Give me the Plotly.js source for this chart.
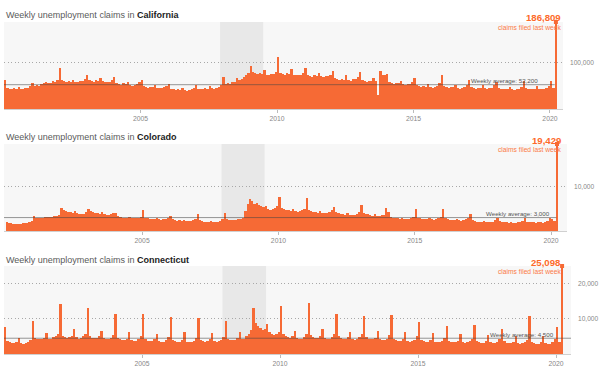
<!DOCTYPE html>
<html>
<head>
<meta charset="utf-8">
<script src="https://cdn.plot.ly/plotly-3.0.1.min.js"></script>
<style>html,body{margin:0;padding:0;background:#fff;}#chart{width:600px;height:370px;}</style>
</head>
<body>
<div id="chart"></div>
<script>
// Monthly estimates, Jan 2000 .. Feb 2020 (thousands of claims)
const firstYear = 2000;
const caThousands = [
 62,46,44,42,45,44,48,43,42,45,46,50,
 56,50,52,50,54,55,58,55,56,60,58,62,
 88,62,60,58,60,59,63,58,57,60,61,64,
 72,62,60,58,62,60,66,60,58,57,58,62,
 68,56,54,52,55,53,58,52,50,52,54,58,
 62,50,48,45,48,47,52,46,45,46,47,50,
 54,44,42,40,42,41,46,40,38,40,42,45,
 52,44,43,42,45,44,50,45,44,46,48,52,
 68,54,55,54,58,58,66,62,64,68,72,78,
 92,80,78,76,78,76,84,74,72,75,76,80,
 112,78,76,74,78,76,86,74,72,74,74,78,
 88,72,70,68,72,70,78,70,68,70,70,74,
 82,66,64,62,64,63,72,62,60,64,64,68,
 80,62,60,58,60,60,66,60,30,82,72,74,
 76,58,56,54,56,55,60,54,52,53,54,58,
 66,52,50,48,50,48,54,48,46,48,50,56,
 74,50,48,46,48,47,52,46,44,46,48,52,
 62,48,46,44,46,45,52,45,43,45,46,52,
 58,46,44,42,44,43,48,42,41,42,44,48,
 60,46,44,42,44,43,50,43,42,44,46,50,
 60,46
];
const coThousands = [
 2.1,1.8,1.7,1.6,1.6,1.5,1.6,1.7,1.7,1.8,2.0,2.2,
 3.4,3.0,2.9,2.9,3.0,3.1,3.2,3.1,3.2,3.3,3.3,3.5,
 5.2,4.6,4.4,4.3,4.2,4.0,4.4,4.0,3.9,3.8,3.9,4.2,
 5.0,4.4,4.2,4.0,4.0,3.8,4.2,3.8,3.6,3.6,3.8,4.1,
 4.1,3.4,3.2,3.0,3.0,2.9,3.2,2.9,2.8,2.8,3.0,3.2,
 4.7,3.0,2.8,2.7,2.7,2.6,2.8,2.6,2.5,2.6,2.7,2.9,
 3.3,2.6,2.4,2.3,2.4,2.3,2.5,2.3,2.2,2.3,2.4,2.6,
 3.8,2.4,2.2,2.1,2.1,2.1,2.3,2.1,2.0,2.1,2.3,2.6,
 4.0,2.6,2.5,2.4,2.4,2.4,2.6,2.7,3.0,4.5,6.0,7.2,
 6.6,6.0,6.2,5.8,5.6,5.3,5.6,5.0,4.8,5.0,5.2,5.6,
 7.5,5.2,5.0,4.8,4.6,4.4,4.9,4.4,4.3,4.4,4.6,5.0,
 7.4,4.8,4.5,4.3,4.2,4.0,4.5,4.1,4.0,4.1,4.3,4.6,
 5.4,4.2,4.0,3.8,3.8,3.6,4.0,3.6,3.5,3.6,3.8,4.3,
 5.8,4.1,3.9,3.7,3.6,3.4,3.9,3.4,3.3,3.5,3.6,5.1,
 4.2,3.2,3.0,2.9,2.8,2.7,3.0,2.7,2.6,2.7,2.9,3.2,
 5.0,3.0,2.8,2.7,2.7,2.6,2.9,2.6,2.5,2.6,2.8,3.1,
 4.9,2.8,2.6,2.5,2.5,2.4,2.7,2.4,2.3,2.4,2.6,2.9,
 3.7,2.4,2.2,2.1,2.1,2.0,2.2,2.0,1.9,2.0,2.1,2.4,
 2.9,2.2,2.0,1.9,1.9,1.8,2.0,1.8,1.8,1.9,2.0,2.3,
 2.8,2.1,2.0,1.9,1.9,1.8,2.0,1.9,1.8,2.0,2.2,2.9,
 2.7,2.3
];
const ctThousands = [
 7.6,3.8,3.4,3.2,3.0,3.3,4.5,3.2,2.9,3.0,3.3,4.0,
 9.5,4.5,4.2,4.3,4.4,4.6,6.0,4.4,4.3,4.8,5.2,5.8,
 14.2,5.2,4.8,4.6,4.8,5.0,7.2,4.8,4.4,4.6,5.0,5.8,
 13.0,5.0,4.7,4.5,4.6,5.0,6.6,4.5,4.2,4.2,4.6,5.4,
 11.4,4.5,4.2,4.0,4.0,4.4,6.2,4.0,3.6,3.8,4.2,5.0,
 11.4,4.2,3.8,3.6,3.6,4.2,5.8,3.6,3.4,3.5,3.9,4.8,
 10.5,4.0,3.6,3.4,3.5,4.0,6.4,3.5,3.3,3.4,3.8,4.6,
 10.2,4.0,3.7,3.5,3.6,4.2,6.0,3.6,3.4,3.6,4.0,4.8,
 9.3,4.4,4.1,3.9,4.0,4.5,6.4,4.4,4.4,5.0,5.8,6.8,
 13.0,8.8,8.0,7.4,6.8,7.0,8.6,6.2,5.6,5.5,5.6,6.4,
 13.8,5.6,5.2,4.8,4.7,5.0,6.6,4.6,4.3,4.4,4.8,5.6,
 14.6,5.4,4.9,4.6,4.6,5.0,7.0,4.6,4.2,4.4,4.8,5.8,
 11.5,5.0,4.6,4.4,4.4,4.8,6.4,4.4,4.1,4.3,4.8,5.6,
 10.8,4.8,4.4,4.2,4.2,4.6,6.6,4.2,3.9,4.1,4.4,5.4,
 11.1,4.4,4.0,3.8,3.8,4.2,6.2,3.8,3.5,3.7,4.0,5.0,
 9.0,4.0,3.7,3.5,3.5,3.9,6.0,3.5,3.3,3.4,3.8,4.6,
 8.0,3.8,3.5,3.3,3.3,3.7,5.6,3.4,3.2,3.3,3.6,4.4,
 8.2,3.7,3.4,3.2,3.2,3.6,5.4,3.3,3.1,3.2,3.5,4.2,
 7.2,3.6,3.2,3.0,3.0,3.4,5.2,3.1,2.9,3.0,3.4,4.0,
 10.8,3.5,3.1,2.9,2.9,3.3,5.0,3.0,2.8,2.9,3.3,4.2,
 7.6,3.4
];
const lastWeekDate = '2020-03-21';
const lastWeek = {CA: 186809, CO: 19429, CT: 25098};
const averages = {CA: 52200, CO: 3000, CT: 4500};
const stateNames = ['California', 'Colorado', 'Connecticut'];
const lastWeekLabels = ['186,809', '19,429', '25,098'];
const averageLabels = ['Weekly average: 52,200', 'Weekly average: 3,000', 'Weekly average: 4,500'];
const yTickVals = [[100000], [10000], [10000, 20000]];
const yTickText = [['100,000'], ['10,000'], ['10,000', '20,000']];
const xTickYears = ['2005', '2010', '2015', '2020'];
const recession = ['2007-12-01', '2009-06-30'];

function monthDates(n) {
  const out = [];
  for (let i = 0; i < n; i++) {
    const y = firstYear + Math.floor(i / 12), m = (i % 12) + 1;
    out.push(y + '-' + String(m).padStart(2, '0') + '-16');
  }
  return out;
}

const ORANGE = '#f66a35';
const TEXTOR = '#fd6a2a';
const DAY = 86400000;

const series = [
  {vals: caThousands, last: lastWeek.CA, avg: averages.CA},
  {vals: coThousands, last: lastWeek.CO, avg: averages.CO},
  {vals: ctThousands, last: lastWeek.CT, avg: averages.CT}
];

// panel geometry in pixels (layout only)
const W = 600, H = 370;
const panels = [
  {left: 4, right: 563, top: 22, bottom: 109, xr: ['2000-01-01', '2020-06-24'], titleY: 15, valY: 17.7, subY: 27, avgRight: 540, avgY: 80, avgEnd: '2020-03-06'},
  {left: 4, right: 567, top: 144, bottom: 231, xr: ['1999-12-09', '2020-08-02'], titleY: 136.7, valY: 140, subY: 149, avgRight: 552, avgY: 213, avgEnd: '2020-03-12'},
  {left: 4, right: 571, top: 266, bottom: 354, xr: ['2000-01-01', '2020-07-17'], titleY: 259.5, valY: 262, subY: 271.5, avgRight: 556, avgY: 334, avgEnd: '2020-07-17'}
];

const traces = [], shapes = [], annotations = [];
const layout = {
  width: W, height: H,
  margin: {l: 0, r: 0, t: 0, b: 0},
  paper_bgcolor: '#ffffff',
  plot_bgcolor: '#f7f7f7',
  showlegend: false,
  bargap: 0,
  font: {family: 'Liberation Sans, Arial, sans-serif', color: '#666'}
};

series.forEach((s, i) => {
  const p = panels[i];
  const sfx = i === 0 ? '' : String(i + 1);
  const xa = 'x' + sfx, ya = 'y' + sfx;
  const dates = monthDates(s.vals.length);
  traces.push({
    type: 'bar', x: dates, y: s.vals.map(v => v * 1000),
    width: 31 * DAY, marker: {color: ORANGE, line: {width: 0}},
    xaxis: xa, yaxis: ya, hoverinfo: 'skip'
  });
  traces.push({
    type: 'bar', x: [lastWeekDate], y: [s.last],
    width: 24 * DAY, marker: {color: ORANGE, line: {width: 0}},
    xaxis: xa, yaxis: ya, hoverinfo: 'skip'
  });
  traces.push({
    type: 'scatter', mode: 'markers', x: [lastWeekDate], y: [s.last],
    marker: {color: ORANGE, size: 4, symbol: 'square'}, cliponaxis: false,
    xaxis: xa, yaxis: ya, hoverinfo: 'skip'
  });

  layout['xaxis' + sfx] = {
    type: 'date', domain: [p.left / W, p.right / W], anchor: ya, range: p.xr,
    tickvals: xTickYears.map(y => y + '-01-01'), ticktext: xTickYears,
    showgrid: false, zeroline: false, showline: true, linecolor: '#d0d0d0', linewidth: 1,
    ticks: 'outside', ticklen: 3, tickcolor: '#bbb', tickwidth: 1,
    tickfont: {size: 6.8, color: '#888'}, fixedrange: true
  };
  layout['yaxis' + sfx] = {
    domain: [1 - p.bottom / H, 1 - p.top / H], anchor: xa, side: 'right',
    range: [0, s.last], tickvals: yTickVals[i], ticktext: yTickText[i],
    showgrid: true, gridcolor: '#a8a8a8', griddash: '1px,2.5px', gridwidth: 1,
    zeroline: false, showline: false, ticks: '', ticklabelstandoff: 6,
    tickfont: {size: 6.6, color: '#888'}, fixedrange: true
  };

  shapes.push({
    type: 'rect', layer: 'below', xref: xa, yref: ya + ' domain',
    x0: recession[0], x1: recession[1], y0: 0, y1: 1,
    fillcolor: '#e8e8e8', line: {width: 0}
  });
  shapes.push({
    type: 'line', layer: 'above', xref: xa, yref: ya,
    x0: p.xr[0], x1: p.avgEnd, y0: s.avg, y1: s.avg,
    line: {color: 'rgba(70,70,70,0.55)', width: 1}
  });

  annotations.push({
    xref: 'paper', yref: 'paper', x: p.left / W, y: 1 - p.titleY / H,
    xanchor: 'left', yanchor: 'middle', showarrow: false,
    text: '<span style="color:#5a5a5a">Weekly unemployment claims in </span><b><span style="color:#222">' + stateNames[i] + '</span></b>',
    font: {size: 9, family: 'Liberation Sans, Arial, sans-serif'}
  });
  annotations.push({
    xref: 'paper', yref: 'paper', x: 562.5 / W, y: 1 - p.valY / H,
    xanchor: 'right', yanchor: 'middle', showarrow: false,
    text: '<b>' + lastWeekLabels[i] + '</b>', font: {size: 9.6, color: TEXTOR}
  });
  annotations.push({
    xref: 'paper', yref: 'paper', x: 563 / W, y: 1 - p.subY / H,
    xanchor: 'right', yanchor: 'middle', showarrow: false,
    text: 'claims filed last week', font: {size: 6.7, color: '#fb7a48'}
  });
  annotations.push({
    xref: 'paper', yref: 'paper', x: p.avgRight / W, y: 1 - p.avgY / H,
    xanchor: 'right', yanchor: 'middle', showarrow: false,
    text: averageLabels[i], font: {size: 6.2, color: '#555'}
  });
});

layout.shapes = shapes;
layout.annotations = annotations;

Plotly.newPlot('chart', traces, layout, {staticPlot: true, displayModeBar: false});
</script>
</body>
</html>
